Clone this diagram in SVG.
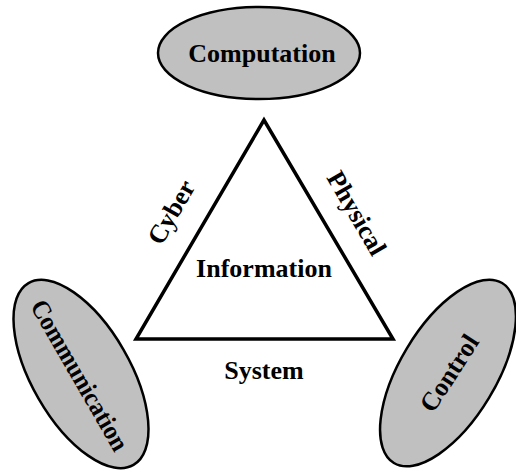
<svg xmlns="http://www.w3.org/2000/svg" width="516" height="473" viewBox="0 0 516 473">
<style>
.node{fill:#c0c0c0;stroke:#000;stroke-width:2.5}
.t{font-family:"Liberation Serif","Times New Roman",serif;font-weight:bold;font-size:26px;text-anchor:middle;fill:#000}
.tri{fill:#fff;stroke:#000;stroke-width:3.5;stroke-linejoin:miter}
</style>
<rect width="516" height="473" fill="#fff"/>
<g id="connectors">
<polygon class="tri" points="264,120 136,339 393,339"/>
</g>
<g id="computation">
<ellipse class="node" cx="259" cy="53" rx="101" ry="46"/>
<text class="t" x="262" y="62">Computation</text>
</g>
<g id="communication">
<ellipse class="node" transform="translate(81,374) rotate(60)" cx="0" cy="0" rx="105" ry="49"/>
<text class="t" transform="translate(80,375) rotate(60)" x="0" y="9" textLength="170" lengthAdjust="spacingAndGlyphs">Communication</text>
</g>
<g id="control">
<ellipse class="node" transform="translate(448,373) rotate(-59)" cx="0" cy="0" rx="105" ry="48"/>
<text class="t" transform="translate(449,373) rotate(-57)" x="0" y="9">Control</text>
</g>
<g id="labels">
<text class="t" x="264" y="277">Information</text>
<text class="t" x="264" y="379">System</text>
<text class="t" transform="translate(171,212) rotate(-60)" x="0" y="9">Cyber</text>
<text class="t" transform="translate(357,213) rotate(60)" x="0" y="9">Physical</text>
</g>
</svg>
